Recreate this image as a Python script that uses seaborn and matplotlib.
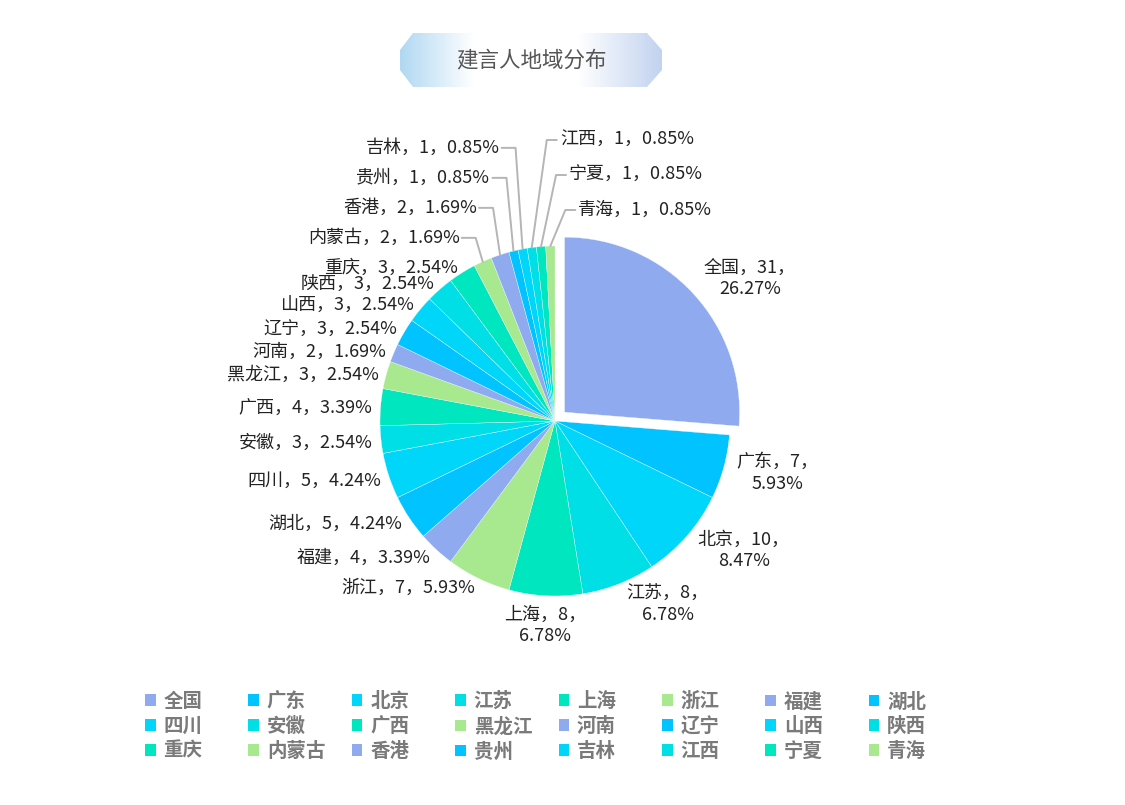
import numpy as np
import matplotlib
matplotlib.use('Agg')
import matplotlib.pyplot as plt
from matplotlib.patches import Patch, Polygon
import seaborn as sns

# data
regions = ['全国', '广东', '北京', '江苏', '上海', '浙江', '福建', '湖北',
           '四川', '安徽', '广西', '黑龙江', '河南', '辽宁', '山西', '陕西',
           '重庆', '内蒙古', '香港', '贵州', '吉林', '江西', '宁夏', '青海']
counts = [31, 7, 10, 8, 8, 7, 4, 5,
          5, 3, 4, 3, 2, 3, 3, 3,
          3, 2, 2, 1, 1, 1, 1, 1]
palette = ['#8FAAEE', '#00C3FF', '#00D5FA', '#00DFE6', '#00E6BE', '#A8E88E']
title = '建言人地域分布'

sns.set_theme(style='white')
plt.rcParams['font.family'] = ['Noto Sans CJK SC', 'DejaVu Sans']

W, H = 1125, 805
fig = plt.figure(figsize=(W / 100, H / 100), dpi=100)
ax = fig.add_axes([0, 0, 1, 1])

cx, cy, r = 555, 421, 175
n = len(counts)
total = sum(counts)
colors = [palette[i % len(palette)] for i in range(n)]
explode = [13] + [0] * (n - 1)  # pie explode is in data units here (pixels)

# y axis runs downward, so counterclock in data = clockwise on screen
wedges, _ = ax.pie(counts, colors=colors, explode=explode, startangle=-90, counterclock=True,
                   center=(cx, cy), radius=r,
                   wedgeprops=dict(linewidth=0.25, edgecolor='#f4fbff'))

# ---- labels
cum = np.concatenate([[0], np.cumsum(counts)[:-1]])
phis = np.deg2rad(90 - 360 * (cum + np.array(counts) / 2) / total)
pcts = [f'{v / total * 100:.2f}%' for v in counts]
line_kw = dict(color='#b5b5b5', lw=1.4, zorder=1)
txt_kw = dict(fontsize=13, color='#222222')

left = [i for i in range(n) if np.cos(phis[i]) <= -0.16]
right = [i for i in range(n) if np.cos(phis[i]) > -0.16]

# left side, bottom first, push up crowded ones
left.sort(key=lambda i: -(cy - 183 * np.sin(phis[i])))
prev_y = None
for i in left:
    c, s = np.cos(phis[i]), np.sin(phis[i])
    x, y = cx + 183 * c, cy - 183 * s + 2
    label = f'{regions[i]}，{counts[i]}，{pcts[i]}'
    if prev_y is not None and prev_y - y < 15:
        y = prev_y - 30
        ex, ey = cx + r * c, cy - r * s
        elbow = ex - 7
        ax.plot([ex, elbow, elbow - 14], [ey, y, y], **line_kw)
        ax.text(elbow - 16, y, label, ha='right', va='center', **txt_kw)
    else:
        ax.text(x, y, label, ha='right', va='center', **txt_kw)
    prev_y = y

# right side
top = sorted([i for i in right if np.sin(phis[i]) > 0.98], key=lambda i: phis[i])
for k, i in enumerate(top):
    c, s = np.cos(phis[i]), np.sin(phis[i])
    y = cy - r - 36 - 35 * k
    ex, ey = cx + r * c, cy - r * s
    elbow = ex + 15
    ax.plot([ex, elbow, elbow + 10], [ey, y, y], **line_kw)
    ax.text(elbow + 13, y, f'{regions[i]}，{counts[i]}，{pcts[i]}', ha='left', va='center', **txt_kw)

for i in right:
    if i in top:
        continue
    c, s = np.cos(phis[i]), np.sin(phis[i])
    ccx, ccy = cx + explode[i] * c, cy - explode[i] * s
    x, y = ccx + 183 * c, ccy - 183 * s
    label = f'{regions[i]}，{counts[i]}，\n{pcts[i]}'
    if abs(c) < 0.2:
        ax.text(x, y + 2, label, ha='center', va='top', multialignment='center', linespacing=1.25, **txt_kw)
    else:
        ax.text(x + 5, y - s * 14, label, ha='left', va='center', multialignment='center',
                linespacing=1.25, **txt_kw)

# ---- title badge
badge = Polygon([(413, 33), (647, 33), (662, 50), (662, 70), (647, 87),
                 (413, 87), (400, 70), (400, 50)], closed=True,
                facecolor='none', edgecolor='none', transform=ax.transData)
ax.add_patch(badge)
gx = np.linspace(0, 1, 300)
stops = [0, 0.28, 0.68, 1]
rgb_left = np.array([0xB0, 0xD8, 0xF2]) / 255
rgb_right = np.array([0xC2, 0xD3, 0xEF]) / 255
white = np.array([1, 1, 1])
grad = np.stack([np.interp(gx, stops, [rgb_left[k], white[k], white[k], rgb_right[k]]) for k in range(3)], axis=-1)
grad = np.tile(grad[None, :, :], (10, 1, 1))
img = ax.imshow(grad, extent=(400, 662, 87, 33), aspect='auto', zorder=0)
img.set_clip_path(badge)
ax.text(531, 60, title, ha='center', va='center', fontsize=15.5, color='#555555')

ax.set_xlim(0, W)
ax.set_ylim(H, 0)
ax.axis('off')

# ---- legend: 3 rows x 8 columns, filled row by row
handles = [Patch(facecolor=colors[i], edgecolor='none') for i in range(n)]
ncol = 8
for col in range(ncol):
    idx = list(range(col, n, ncol))
    fig.legend([handles[i] for i in idx], [regions[i] for i in idx],
               loc='upper left', bbox_to_anchor=((145 + col * 103.4) / W, 1 - 692 / H),
               frameon=False, prop=dict(size=14, weight='bold'), labelcolor='#7a7a7a',
               handlelength=0.55, handleheight=0.55, handletextpad=0.4,
               labelspacing=0.3, borderpad=0, borderaxespad=0)

fig.savefig('out.png', dpi=100, facecolor='white')
